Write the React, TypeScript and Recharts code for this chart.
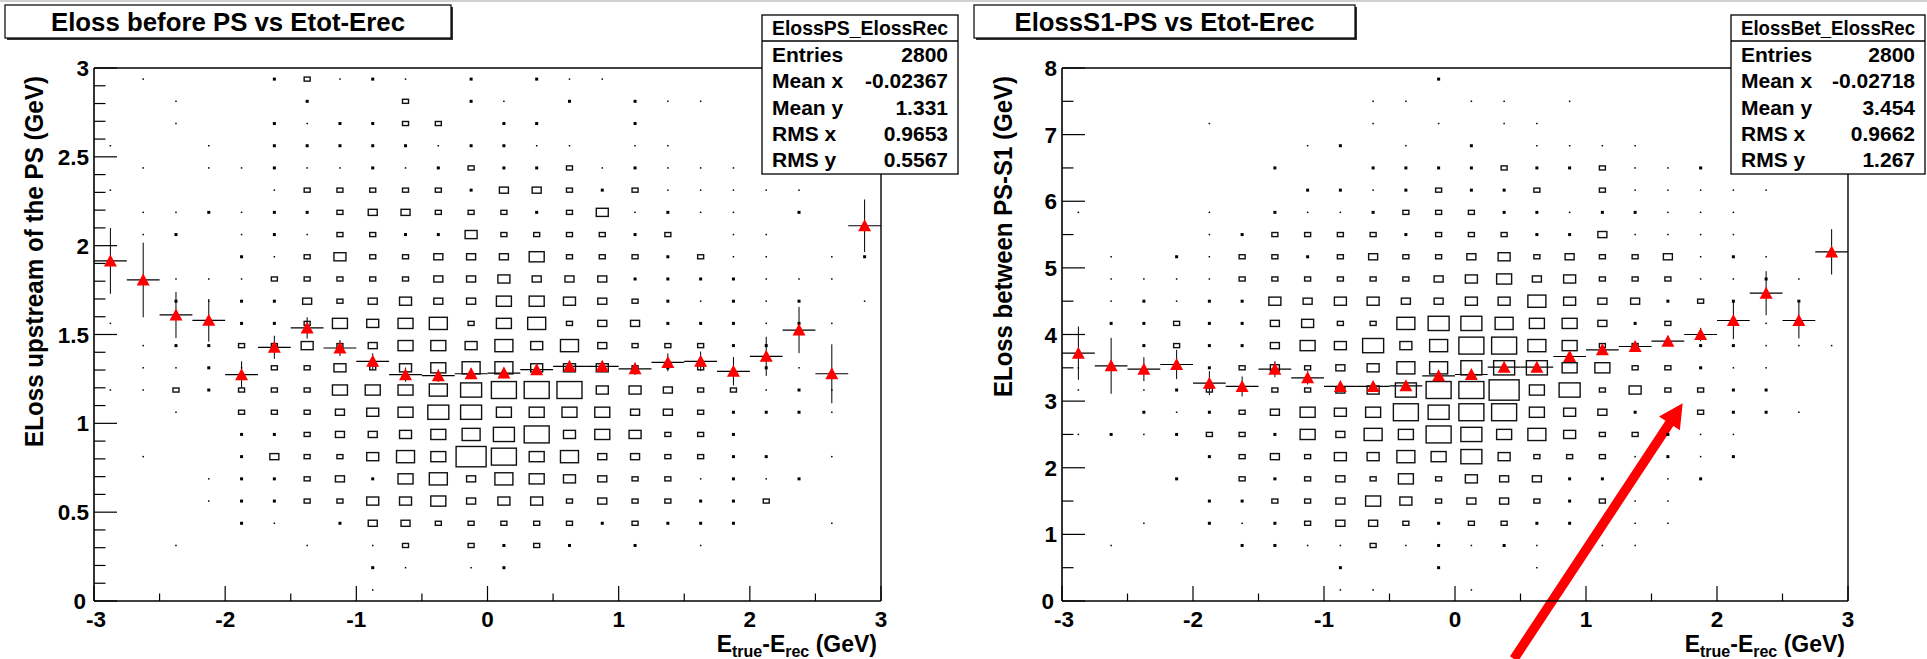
import React from 'react'
import { ComposedChart, Scatter, XAxis, YAxis, ErrorBar, ReferenceLine } from 'recharts'

const FONT = '"Liberation Sans", Arial, Helvetica, sans-serif'

// 24 x bins of 0.25 GeV, shared by both panels
const X_CENTERS = [
  -2.875, -2.625, -2.375, -2.125, -1.875, -1.625, -1.375, -1.125,
  -0.875, -0.625, -0.375, -0.125, 0.125, 0.375, 0.625, 0.875,
  1.125, 1.375, 1.625, 1.875, 2.125, 2.375, 2.625, 2.875,
]
const X_TICKS = [-3, -2.5, -2, -1.5, -1, -0.5, 0, 0.5, 1, 1.5, 2, 2.5, 3]

const LEFT_Y_CENTERS = [
  0.0625, 0.1875, 0.3125, 0.4375, 0.5625, 0.6875, 0.8125, 0.9375,
  1.0625, 1.1875, 1.3125, 1.4375, 1.5625, 1.6875, 1.8125, 1.9375,
  2.0625, 2.1875, 2.3125, 2.4375, 2.5625, 2.6875, 2.8125, 2.9375,
]
const LEFT_Y_TICKS = [
  0, 0.1, 0.2, 0.3, 0.4, 0.5, 0.6, 0.7, 0.8, 0.9, 1, 1.1, 1.2, 1.3, 1.4, 1.5,
  1.6, 1.7, 1.8, 1.9, 2, 2.1, 2.2, 2.3, 2.4, 2.5, 2.6, 2.7, 2.8, 2.9, 3,
]
const LEFT_Y_MAJOR = [0, 0.5, 1, 1.5, 2, 2.5, 3]

const RIGHT_Y_CENTERS = [
  0.1667, 0.5, 0.8333, 1.1667, 1.5, 1.8333, 2.1667, 2.5,
  2.8333, 3.1667, 3.5, 3.8333, 4.1667, 4.5, 4.8333, 5.1667,
  5.5, 5.8333, 6.1667, 6.5, 6.8333, 7.1667, 7.5, 7.8333,
]
const RIGHT_Y_TICKS = [0, 0.5, 1, 1.5, 2, 2.5, 3, 3.5, 4, 4.5, 5, 5.5, 6, 6.5, 7, 7.5, 8]
const RIGHT_Y_MAJOR = [0, 1, 2, 3, 4, 5, 6, 7, 8]

// box sizes per cell, top row first ('.' empty, 1..9,a = growing box)
const LEFT_ROWS = [
  '.1...23121.2.211........',
  '..1...2..3.21.2.211.....',
  '..1..212233.22..2.......',
  '1..1.2222212211.11......',
  '.1.11211212322312111....',
  '1....13333324432311111..',
  '.1121223443332351211.2..',
  '.12.12133225333323.11...',
  '....21353344463332311.12',
  '..111333334454442222111.',
  '..21224345446654321212.1',
  '1...2236567367344222121.',
  '.12233534665757433322...',
  '.112133535677555323.21..',
  '11323336667899955433121.',
  '..1.3334568866664432221.',
  '....2234456789565332....',
  '.1..2433576a967443322.1.',
  '...1223426747654331212..',
  '...122335564553433223...',
  '....21.2443333323222..1.',
  '..1...1.13.3232.2.1.....',
  '........21.12...........',
  '........1...............',
]
const RIGHT_ROWS = [
  '...........2............',
  '.........11.11.1........',
  '....1....1.1.11.........',
  '.......12.1.2.1111......',
  '......2..22223223112....',
  '.......22123223.311111..',
  '1...1.211233322122111...',
  '....12333323332241111...',
  '.1.2133234334534334121..',
  '.1111333333456453331121.',
  '.12122545544557544232.2.',
  '.223224533788766423..1..',
  '..2322465857997633.22111',
  '1.1.234345778886633211..',
  '1.123.3345899a68353322..',
  '..2123465698996542.3221.',
  '121233264769867533211...',
  '....23435576853331212...',
  '...2.323436354422.12....',
  '....223346534432311.....',
  '..1.212344323322.11.....',
  '.1...2211312121.11......',
  '........2..2..1.........',
  '........11..1...........',
]
const LEVEL_SIDE = [0, 1.5, 3, 6, 9, 12, 15, 18, 21, 25, 30]

// profile (red triangles)
const LEFT_PROF_Y = [
  1.914, 1.807, 1.61, 1.58, 1.274, 1.428, 1.537, 1.424, 1.349, 1.274, 1.268, 1.279,
  1.283, 1.302, 1.321, 1.321, 1.307, 1.343, 1.349, 1.293, 1.377, 1.525, 1.279, 2.112,
]
const LEFT_PROF_ERR = [
  0.185, 0.21, 0.13, 0.12, 0.075, 0.065, 0.06, 0.045, 0.045, 0.04, 0.035, 0.03,
  0.03, 0.03, 0.03, 0.03, 0.035, 0.05, 0.055, 0.08, 0.11, 0.13, 0.166, 0.148,
]
const RIGHT_PROF_Y = [
  3.72, 3.53, 3.48, 3.55, 3.27, 3.22, 3.48, 3.35, 3.22, 3.22, 3.23, 3.38,
  3.4, 3.51, 3.51, 3.67, 3.77, 3.82, 3.9, 4.0, 4.21, 4.62, 4.21, 5.24,
]
const RIGHT_PROF_ERR = [
  0.4, 0.42, 0.18, 0.22, 0.18, 0.15, 0.12, 0.1, 0.08, 0.07, 0.06, 0.05,
  0.05, 0.05, 0.05, 0.05, 0.06, 0.07, 0.08, 0.1, 0.28, 0.33, 0.27, 0.34,
]

const LEFT_STATS_NAME = 'ElossPS_ElossRec'
const LEFT_STATS = [['Entries', '2800'], ['Mean x', '-0.02367'], ['Mean y', '1.331'], ['RMS x', '0.9653'], ['RMS y', '0.5567']]
const RIGHT_STATS_NAME = 'ElossBet_ElossRec'
const RIGHT_STATS = [['Entries', '2800'], ['Mean x', '-0.02718'], ['Mean y', '3.454'], ['RMS x', '0.9662'], ['RMS y', '1.267']]

// arrow annotation on the right panel, in data units
const ARROW = [{ x: 0.45, y: -0.87 }, { x: 1.738, y: 2.967 }]

const halfBin = (X_CENTERS[1] - X_CENTERS[0]) / 2

function toCells(rows: string[], yCenters: number[]) {
  const out: { x: number; y: number; lvl: number }[] = []
  rows.forEach((row, i) => {
    const y = yCenters[rows.length - 1 - i]
    for (let j = 0; j < row.length; j++) {
      const lvl = parseInt(row[j], 16)
      if (lvl > 0) out.push({ x: X_CENTERS[j], y, lvl })
    }
  })
  return out
}

const toProfile = (ys: number[], errs: number[]) =>
  X_CENTERS.map((x, i) => ({ x, y: ys[i], err: errs[i], xerr: halfBin }))

const boxShape = (binW: number, binH: number) => (p: any) => {
  const lvl = p.payload.lvl
  const w = LEVEL_SIDE[lvl]
  if (lvl <= 2) {
    return <rect x={p.cx - w / 2} y={p.cy - w / 2} width={w} height={w} fill="#000" />
  }
  const h = (w * binH) / binW
  return (
    <rect x={p.cx - w / 2} y={p.cy - h / 2} width={w} height={h}
      fill="none" stroke="#111" strokeWidth={1.4} />
  )
}

const Triangle = (p: any) => (
  <polygon
    points={`${p.cx},${p.cy - 6.5} ${p.cx - 6.5},${p.cy + 5.5} ${p.cx + 6.5},${p.cy + 5.5}`}
    fill="#ff0000"
  />
)

const XTick = (p: any) => {
  const v = p.payload.value
  const major = Number.isInteger(v)
  // nudge the corner label so it clears the y-axis "0"
  const dx = v === -3 ? 2 : 0
  return (
    <g>
      <line x1={p.x} x2={p.x} y1={p.y} y2={p.y - (major ? 15 : 7.5)} stroke="#000" strokeWidth={1.2} />
      {major && (
        <text x={p.x + dx} y={p.y + 26} textAnchor="middle" fontFamily={FONT} fontWeight="bold" fontSize={22.5} fill="#000">
          {String(v)}
        </text>
      )}
    </g>
  )
}

const makeYTick = (majors: number[]) => (p: any) => {
  const v = p.payload.value
  const major = majors.includes(v)
  const dx = v === 0 ? 3 : 0
  return (
    <g>
      <line x1={p.x} x2={p.x + (major ? 23 : 11.5)} y1={p.y} y2={p.y} stroke="#000" strokeWidth={1.2} />
      {major && (
        <text x={p.x - 5 - dx} y={p.y + 8} textAnchor="end" fontFamily={FONT} fontWeight="bold" fontSize={22.5} fill="#000">
          {String(v)}
        </text>
      )}
    </g>
  )
}

const Arrow = (p: any) => {
  const { x1, y1, x2, y2 } = p
  const len = Math.hypot(x2 - x1, y2 - y1)
  const ux = (x2 - x1) / len
  const uy = (y2 - y1) / len
  const bx = x2 - ux * 24
  const by = y2 - uy * 24
  return (
    <g>
      <line x1={x1} y1={y1} x2={bx + ux * 2} y2={by + uy * 2} stroke="#ff0000" strokeWidth={9.5} />
      <polygon
        points={`${x2},${y2} ${bx - uy * 12.5},${by + ux * 12.5} ${bx + uy * 12.5},${by - ux * 12.5}`}
        fill="#ff0000"
      />
    </g>
  )
}

interface PanelProps {
  left: number
  width: number
  margin: { top: number; right: number; bottom: number; left: number }
  yMax: number
  yTicks: number[]
  yMajor: number[]
  cells: { x: number; y: number; lvl: number }[]
  profile: { x: number; y: number; err: number; xerr: number }[]
  binW: number
  arrow?: boolean
}

function Panel({ left, width, margin, yMax, yTicks, yMajor, cells, profile, binW, arrow }: PanelProps) {
  // axes take 1px each (an axis of zero size is not drawn), margins account for that
  const binH = (659 - margin.top - margin.bottom - 1) / 24
  return (
    <div style={{ position: 'absolute', left, top: 0 }}>
      <ComposedChart width={width} height={659} margin={margin}>
        <XAxis type="number" dataKey="x" domain={[-3, 3]} ticks={X_TICKS} interval={0}
          allowDataOverflow height={1} tickSize={0} tickMargin={0} tickLine={false}
          axisLine={{ stroke: '#000', strokeWidth: 1.6 }} tick={<XTick />} />
        <YAxis type="number" dataKey="y" domain={[0, yMax]} ticks={yTicks} interval={0}
          allowDataOverflow width={1} tickSize={0} tickMargin={0} tickLine={false}
          axisLine={{ stroke: '#000', strokeWidth: 1.6 }} tick={makeYTick(yMajor)} />
        <ReferenceLine y={yMax} stroke="#000" strokeWidth={1.4} />
        <ReferenceLine x={3} stroke="#000" strokeWidth={1.4} />
        <Scatter data={cells} shape={boxShape(binW, binH)} isAnimationActive={false} />
        <Scatter data={profile} shape={<Triangle />} isAnimationActive={false}>
          <ErrorBar dataKey="err" direction="y" width={0} stroke="#000" strokeWidth={1} isAnimationActive={false} />
          <ErrorBar dataKey="xerr" direction="x" width={0} stroke="#000" strokeWidth={1.2} isAnimationActive={false} />
        </Scatter>
        {arrow && (
          <ReferenceLine segment={ARROW} ifOverflow="visible" shape={(p: any) => <Arrow {...p} />} />
        )}
      </ComposedChart>
    </div>
  )
}

function StatsBox({ x, w, name, rows }: { x: number; w: number; name: string; rows: string[][] }) {
  return (
    <g fontFamily={FONT} fontWeight="bold" fill="#000">
      <rect x={x} y={15} width={w} height={159} fill="#fff" stroke="#000" strokeWidth={1.3} />
      <line x1={x} x2={x + w} y1={41} y2={41} stroke="#000" strokeWidth={1.3} />
      <text x={x + w / 2} y={35} textAnchor="middle" fontSize={20} textLength={w - 20} lengthAdjust="spacingAndGlyphs">
        {name}
      </text>
      {rows.map(([k, v], i) => (
        <g key={k}>
          <text x={x + 10} y={62 + i * 26.3} fontSize={21}>{k}</text>
          <text x={x + w - 10} y={62 + i * 26.3} fontSize={21} textAnchor="end">{v}</text>
        </g>
      ))}
    </g>
  )
}

function TitleBox({ x, w, text, textW }: { x: number; w: number; text: string; textW: number }) {
  return (
    <g>
      <rect x={x + 2} y={7} width={w} height={33} fill="#333" />
      <rect x={x} y={5} width={w} height={33} fill="#fff" stroke="#000" strokeWidth={1.2} />
      <text x={x + w / 2} y={31} textAnchor="middle" fontFamily={FONT} fontWeight="bold" fontSize={26}
        textLength={textW} lengthAdjust="spacingAndGlyphs" fill="#000">
        {text}
      </text>
    </g>
  )
}

function XTitle({ right }: { right: number }) {
  return (
    <text x={right} y={652} textAnchor="end" fontFamily={FONT} fontWeight="bold" fontSize={23} fill="#000">
      <tspan>E</tspan>
      <tspan dy={5} fontSize={16}>true</tspan>
      <tspan dy={-5}>-E</tspan>
      <tspan dy={5} fontSize={16}>rec</tspan>
      <tspan dy={-5}> (GeV)</tspan>
    </text>
  )
}

function YTitle({ x, text, len }: { x: number; text: string; len: number }) {
  return (
    <text transform={`translate(${x},76) rotate(-90)`} textAnchor="end" fontFamily={FONT} fontWeight="bold"
      fontSize={26} textLength={len} lengthAdjust="spacingAndGlyphs" fill="#000">
      {text}
    </text>
  )
}

export default function App() {
  const leftCells = toCells(LEFT_ROWS, LEFT_Y_CENTERS)
  const rightCells = toCells(RIGHT_ROWS, RIGHT_Y_CENTERS)
  const leftProfile = toProfile(LEFT_PROF_Y, LEFT_PROF_ERR)
  const rightProfile = toProfile(RIGHT_PROF_Y, RIGHT_PROF_ERR)

  return (
    <div style={{ position: 'absolute', left: 0, top: 0, width: 1927, height: 659, background: '#fff', overflow: 'hidden' }}>
      <Panel left={0} width={960} margin={{ top: 68, right: 79, bottom: 57, left: 93 }} yMax={3}
        yTicks={LEFT_Y_TICKS} yMajor={LEFT_Y_MAJOR} cells={leftCells} profile={leftProfile} binW={787 / 24} />
      <Panel left={960} width={967} margin={{ top: 68, right: 79, bottom: 57, left: 101 }} yMax={8}
        yTicks={RIGHT_Y_TICKS} yMajor={RIGHT_Y_MAJOR} cells={rightCells} profile={rightProfile} binW={786 / 24} arrow />
      <svg width={1927} height={659} style={{ position: 'absolute', left: 0, top: 0, pointerEvents: 'none' }}>
        <rect x={0} y={0} width={1927} height={2} fill="#d0d0d0" />
        <TitleBox x={5} w={446} text="Eloss before PS vs Etot-Erec" textW={354} />
        <TitleBox x={974} w={381} text="ElossS1-PS vs Etot-Erec" textW={300} />
        <StatsBox x={762} w={196} name={LEFT_STATS_NAME} rows={LEFT_STATS} />
        <StatsBox x={1731} w={194} name={RIGHT_STATS_NAME} rows={RIGHT_STATS} />
        <YTitle x={43} text="ELoss upstream of the PS (GeV)" len={371} />
        <YTitle x={1012} text="ELoss between PS-S1 (GeV)" len={321} />
        <XTitle right={877} />
        <XTitle right={1845} />
      </svg>
    </div>
  )
}
